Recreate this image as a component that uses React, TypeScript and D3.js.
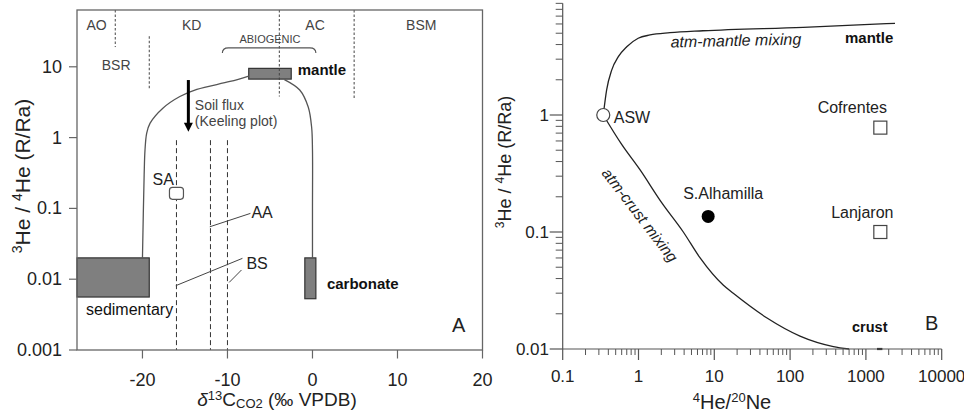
import React from "react";
import * as d3 from "d3";

// ---------------- Panel A data ----------------
const aXTicks = [-20, -10, 0, 10, 20];
const aXTickLabels = ["-20", "-10", "0", "10", "20"];
const aYTicks = [0.001, 0.01, 0.1, 1, 10];
const aYTickLabels = ["0.001", "0.01", "0.1", "1", "10"];

const mixLeft: [number, number][] = [
  [-20, 0.02], [-19.8, 0.3], [-19.7, 0.67], [-19.5, 1.16], [-19.1, 1.6], [-17.6, 2.6],
  [-15.6, 3.8], [-13.6, 4.8], [-9.7, 6.2], [-7.5, 7.4],
];
const mixRight: [number, number][] = [
  [-3.3, 6.6], [-1.5, 4.7], [-0.5, 2.7], [-0.1, 1.4], [0, 0.67], [0, 0.1], [0, 0.02],
];
const endBoxes = [
  { name: "sedimentary", x0: -27.7, x1: -19.2, y0: 0.0056, y1: 0.02 },
  { name: "carbonate", x0: -0.9, x1: 0.4, y0: 0.0053, y1: 0.02 },
  { name: "mantle", x0: -7.5, x1: -2.5, y0: 6.7, y1: 9.5 },
];
const soilDashedX = [-16, -12, -10];
const soilDashedTop = 0.92;
const zoneDividers = [
  { x: -23.2, y0: 19, y1: 63.4 },
  { x: -19.2, y0: 4.8, y1: 27 },
  { x: -3.9, y0: 3.8, y1: 63.4 },
  { x: 4.9, y0: 3.6, y1: 63.4 },
];
const zoneNames = ["AO", "KD", "AC", "BSM", "BSR"];
const zoneX = [-25.4, -14.2, 0.3, 12.8, -23.1];
const zoneY = [39, 39, 39, 39, 10.6];
const saPoint: [number, number] = [-16, 0.163];
const soilArrow = { x: -14.6, from: 6.5, to: 1.21 };
const aaLeader: [number, number][] = [[-12.08, 0.055], [-7.3, 0.085]];
const bsLeader1: [number, number][] = [[-16.08, 0.0081], [-8.24, 0.0197]];
const bsLeader2: [number, number][] = [[-9.8, 0.009], [-8.35, 0.0135]];
const abiogenicRange = { x0: -10.6, x1: 0.4, yTop: 18.5, yBot: 15.6 };

// ---------------- Panel B data ----------------
const bXTicks = [0.1, 1, 10, 100, 1000, 10000];
const bXTickLabels = ["0.1", "1", "10", "100", "1000", "10000"];
const bYTicks = [0.01, 0.1, 1];
const bYTickLabels = ["0.01", "0.1", "1"];
const atmMantle: [number, number][] = [
  [0.343, 1], [0.38, 1.64], [0.443, 2.42], [0.542, 3.15], [0.7, 3.83], [0.99, 4.53],
  [1.42, 4.83], [2.6, 5.05], [7.1, 5.25], [149, 5.62], [2420, 6.08],
];
const atmCrust: [number, number][] = [
  [0.343, 1], [0.6, 0.56], [1.05, 0.339], [2, 0.18], [3.9, 0.1], [6.5, 0.06],
  [13.2, 0.035], [17.8, 0.0299], [49, 0.0185], [135, 0.0129], [372, 0.0105], [600, 0.01],
];
const crustSegment: [number, number][] = [[1400, 0.01], [1650, 0.01]];
const aswPoint: [number, number] = [0.343, 1];
const samples = [
  { name: "S.Alhamilla", x: 8.3, y: 0.136, filled: true },
  { name: "Cofrentes", x: 1550, y: 0.78, filled: false },
  { name: "Lanjaron", x: 1550, y: 0.1, filled: false },
];

// ---------------- scales ----------------
const xA = d3.scaleLinear().domain([-27.7, 20]).range([77, 482.5]);
const yA = d3.scaleLog().domain([0.001, 63.4]).range([350, 10]);
const xB = d3.scaleLog().domain([0.1, 10000]).range([562.7, 941.7]);
const yB = d3.scaleLog().domain([0.01, 10]).range([349, -2]);

const FONT = "Arial, 'Liberation Sans', sans-serif";

export default function App() {
  const lineA = d3
    .line<[number, number]>()
    .x((d) => xA(d[0]))
    .y((d) => yA(d[1]))
    .curve(d3.curveCatmullRom.alpha(0.5));
  const lineB = d3
    .line<[number, number]>()
    .x((d) => xB(d[0]))
    .y((d) => yB(d[1]))
    .curve(d3.curveMonotoneX);
  const straightA = d3
    .line<[number, number]>()
    .x((d) => xA(d[0]))
    .y((d) => yA(d[1]));

  const bXMinor: number[] = [];
  for (let e = -1; e < 4; e++) for (let m = 2; m <= 9; m++) bXMinor.push(m * Math.pow(10, e));
  const bYMinor: number[] = [];
  for (let e = -2; e < 1; e++) for (let m = 2; m <= 9; m++) bYMinor.push(m * Math.pow(10, e));

  const [ax0, ax1] = xA.range();
  const [ay0, ay1] = yA.range();
  const sa = [xA(saPoint[0]), yA(saPoint[1])];

  const brace = (() => {
    const x0 = xA(abiogenicRange.x0), x1 = xA(abiogenicRange.x1);
    const yt = yA(abiogenicRange.yTop), yb = yA(abiogenicRange.yBot);
    return `M${x0},${yb} Q${x0},${yt} ${x0 + 6},${yt} L${x1 - 6},${yt} Q${x1},${yt} ${x1},${yb}`;
  })();

  const ax = xA(soilArrow.x);
  const aTop = yA(soilArrow.from);
  const aTip = yA(soilArrow.to);

  const aa = [xA(aaLeader[1][0]), yA(aaLeader[1][1])];
  const bsEnd = [xA(bsLeader1[1][0]), yA(bsLeader1[1][1])];
  const mBox = endBoxes[2];
  const cBox = endBoxes[1];

  const asw = [xB(aswPoint[0]), yB(aswPoint[1])];
  const bAxisTop = yB(9);

  return (
    <svg
      width={964}
      height={416}
      style={{ position: "absolute", left: 0, top: 0, background: "#fff" }}
      fontFamily={FONT}
    >
      <rect x={0} y={0} width={964} height={416} fill="#fff" />

      {/* ============ Panel A ============ */}
      {endBoxes.map((b) => (
        <rect
          key={b.name}
          x={xA(b.x0)}
          y={yA(b.y1)}
          width={xA(b.x1) - xA(b.x0)}
          height={yA(b.y0) - yA(b.y1)}
          fill="#7f7f7f"
          stroke="#333"
          strokeWidth={1.2}
        />
      ))}
      <path d={lineA(mixLeft) || ""} fill="none" stroke="#555" strokeWidth={1.3} />
      <path d={lineA(mixRight) || ""} fill="none" stroke="#555" strokeWidth={1.3} />

      {soilDashedX.map((x) => (
        <line
          key={x}
          x1={xA(x)}
          x2={xA(x)}
          y1={yA(soilDashedTop)}
          y2={ay0}
          stroke="#333"
          strokeWidth={1}
          strokeDasharray="5,3"
        />
      ))}
      {zoneDividers.map((z, i) => (
        <line
          key={i}
          x1={xA(z.x)}
          x2={xA(z.x)}
          y1={yA(z.y1)}
          y2={yA(z.y0)}
          stroke="#444"
          strokeWidth={1}
          strokeDasharray="2.5,2"
        />
      ))}
      {zoneNames.map((n, i) => (
        <text
          key={n}
          x={xA(zoneX[i])}
          y={yA(zoneY[i]) + 5}
          fontSize={14}
          fill="#444"
          textAnchor="middle"
        >
          {n}
        </text>
      ))}
      <path d={brace} fill="none" stroke="#555" strokeWidth={1.1} />
      <text x={xA(-5)} y={yA(24.4) + 4} fontSize={11} fill="#444" textAnchor="middle">
        ABIOGENIC
      </text>

      {[aaLeader, bsLeader1, bsLeader2].map((l, i) => (
        <path key={i} d={straightA(l) || ""} stroke="#444" strokeWidth={1} fill="none" />
      ))}
      <text x={aa[0] + 1} y={aa[1] + 4.5} fontSize={16} fill="#222">AA</text>
      <text x={bsEnd[0] + 4} y={bsEnd[1] + 11} fontSize={16} fill="#222">BS</text>

      <rect x={sa[0] - 7} y={sa[1] - 6} width={14} height={12} rx={3} fill="#fff" stroke="#555" strokeWidth={1.2} />
      <text x={sa[0] - 2.5} y={sa[1] - 8} fontSize={16} fill="#222" textAnchor="end">SA</text>

      <line x1={ax} x2={ax} y1={aTop} y2={aTip - 8} stroke="#000" strokeWidth={3} />
      <polygon points={`${ax - 4.5},${aTip - 9} ${ax + 4.5},${aTip - 9} ${ax},${aTip}`} fill="#000" />
      <text x={ax + 6.5} y={110} fontSize={14} fill="#444">Soil flux</text>
      <text x={ax + 6.5} y={126} fontSize={14} fill="#444">(Keeling plot)</text>

      <text x={xA(mBox.x1) + 6.5} y={yA(mBox.y1) + 7} fontSize={15} fontWeight="bold" fill="#111">mantle</text>
      <text x={xA(cBox.x1) + 11} y={288.5} fontSize={15} fontWeight="bold" fill="#111">carbonate</text>
      <text x={86} y={315} fontSize={16} fill="#111">sedimentary</text>
      <text x={452} y={332} fontSize={20} fill="#222">A</text>

      <rect x={ax0} y={ay1} width={ax1 - ax0} height={ay0 - ay1} fill="none" stroke="#666" strokeWidth={1.3} />
      {aYTicks.map((t, i) => (
        <g key={t}>
          <line x1={ax0 - 8} x2={ax0} y1={yA(t)} y2={yA(t)} stroke="#666" strokeWidth={1.2} />
          <text x={62} y={yA(t) + 6} fontSize={18} fill="#222" textAnchor="end">
            {aYTickLabels[i]}
          </text>
        </g>
      ))}
      {aXTicks.map((t, i) => (
        <g key={t}>
          <line x1={xA(t)} x2={xA(t)} y1={ay0} y2={ay0 + 8.5} stroke="#666" strokeWidth={1.2} />
          <text x={xA(t)} y={386} fontSize={18} fill="#222" textAnchor="middle">
            {aXTickLabels[i]}
          </text>
        </g>
      ))}
      <text x={277} y={406} fontSize={19} fill="#222" textAnchor="middle">
        <tspan fontStyle="italic">δ</tspan>
        <tspan fontSize={13} baselineShift="6">13</tspan>
        <tspan>C</tspan>
        <tspan fontSize={13} baselineShift="-2">CO2</tspan>
        <tspan> (‰ VPDB)</tspan>
      </text>
      <text
        transform="translate(30,176) rotate(-90)"
        fontSize={21}
        fill="#222"
        textAnchor="middle"
      >
        <tspan fontSize={14} baselineShift="super">3</tspan>
        <tspan>He / </tspan>
        <tspan fontSize={14} baselineShift="super">4</tspan>
        <tspan>He (R/Ra)</tspan>
      </text>

      {/* ============ Panel B ============ */}
      <path d={lineB(atmMantle) || ""} fill="none" stroke="#222" strokeWidth={1.3} />
      <path d={lineB(atmCrust) || ""} fill="none" stroke="#222" strokeWidth={1.3} />
      <path d={lineB(crustSegment) || ""} fill="none" stroke="#222" strokeWidth={2.2} />

      <line x1={xB(0.1)} x2={xB(0.1)} y1={yB(0.01)} y2={bAxisTop} stroke="#555" strokeWidth={1.2} />
      <line x1={xB(0.1)} x2={xB(10000)} y1={yB(0.01)} y2={yB(0.01)} stroke="#555" strokeWidth={1.2} />
      {bYMinor.map((t) => (
        <line key={t} x1={xB(0.1) - 7} x2={xB(0.1)} y1={yB(t)} y2={yB(t)} stroke="#555" strokeWidth={1} />
      ))}
      {bYTicks.map((t, i) => (
        <g key={t}>
          <line x1={xB(0.1) - 13} x2={xB(0.1)} y1={yB(t)} y2={yB(t)} stroke="#555" strokeWidth={1.2} />
          <text x={549} y={yB(t) + 6} fontSize={17} fill="#222" textAnchor="end">
            {bYTickLabels[i]}
          </text>
        </g>
      ))}
      {bXMinor.map((t) => (
        <line key={t} x1={xB(t)} x2={xB(t)} y1={yB(0.01)} y2={yB(0.01) + 6} stroke="#555" strokeWidth={1} />
      ))}
      {bXTicks.map((t, i) => (
        <g key={t}>
          <line x1={xB(t)} x2={xB(t)} y1={yB(0.01)} y2={yB(0.01) + 11} stroke="#555" strokeWidth={1.2} />
          <text x={xB(t)} y={382} fontSize={17} fill="#222" textAnchor="middle">
            {bXTickLabels[i]}
          </text>
        </g>
      ))}
      <text x={732} y={409} fontSize={20} fill="#222" textAnchor="middle">
        <tspan fontSize={13} baselineShift="7">4</tspan>
        <tspan>He/</tspan>
        <tspan fontSize={13} baselineShift="7">20</tspan>
        <tspan>Ne</tspan>
      </text>
      <text
        transform="translate(511,162) rotate(-90)"
        fontSize={18}
        fill="#222"
        textAnchor="middle"
      >
        <tspan fontSize={12} baselineShift="super">3</tspan>
        <tspan>He / </tspan>
        <tspan fontSize={12} baselineShift="super">4</tspan>
        <tspan>He (R/Ra)</tspan>
      </text>

      <circle cx={asw[0]} cy={asw[1]} r={6.5} fill="#fff" stroke="#444" strokeWidth={1.2} />
      <text x={asw[0] + 10.5} y={asw[1] + 7.5} fontSize={16} fill="#222">ASW</text>
      {samples.map((s) =>
        s.filled ? (
          <circle key={s.name} cx={xB(s.x)} cy={yB(s.y)} r={6.5} fill="#000" />
        ) : (
          <rect
            key={s.name}
            x={xB(s.x) - 6.5}
            y={yB(s.y) - 6.5}
            width={13}
            height={13}
            fill="#fff"
            stroke="#444"
            strokeWidth={1.2}
          />
        )
      )}
      <text x={xB(samples[0].x) - 25} y={yB(samples[0].y) - 17} fontSize={16} fill="#222">S.Alhamilla</text>
      <text x={xB(samples[1].x) - 28} y={yB(samples[1].y) - 15} fontSize={16} fill="#222" textAnchor="middle">Cofrentes</text>
      <text x={xB(samples[2].x) - 18} y={yB(samples[2].y) - 14} fontSize={16} fill="#222" textAnchor="middle">Lanjaron</text>

      <text x={845} y={42.7} fontSize={15} fontWeight="bold" fill="#111">mantle</text>
      <text x={852} y={331.7} fontSize={14.5} fontWeight="bold" fill="#111">crust</text>
      <text x={925} y={330} fontSize={20} fill="#222">B</text>
      <text
        transform="translate(736,46) rotate(-1.3)"
        fontSize={16}
        fontStyle="italic"
        fill="#222"
        textAnchor="middle"
      >
        atm-mantle mixing
      </text>
      <text
        transform="translate(640,215) rotate(52.5)"
        fontSize={15.5}
        fontStyle="italic"
        fill="#222"
        textAnchor="middle"
        dominantBaseline="central"
      >
        atm-crust mixing
      </text>
    </svg>
  );
}
